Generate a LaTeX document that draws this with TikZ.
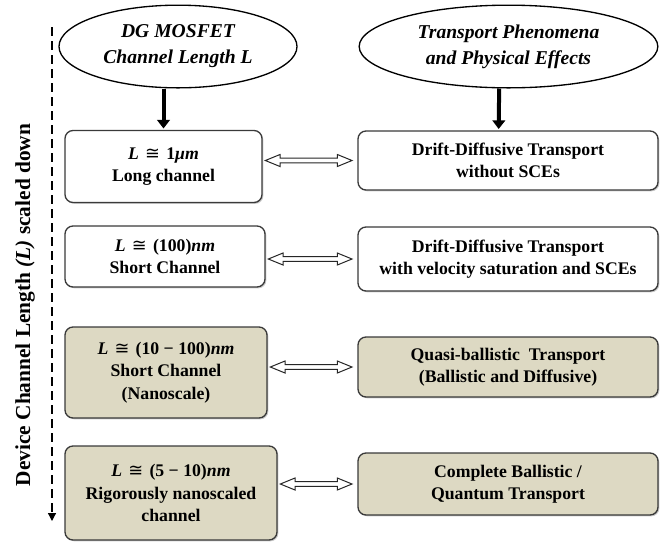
\documentclass[tikz,border=0pt]{standalone}
\usepackage{fontspec}
\setmainfont{Liberation Serif}
\newfontfamily\congfont{DejaVu Sans}
\usepackage{tikz}
\usetikzlibrary{shapes.geometric, arrows.meta, positioning, calc, shadows}

\definecolor{khaki}{HTML}{DDD9C3}
\definecolor{edgegray}{HTML}{3A3A3A}

% relation and minus for the length values
\newcommand{\cg}{\hspace{0.35em}{\congfont\mdseries ≅}\hspace{0.35em}}
\newcommand{\mn}{\hspace{0.25em}−\hspace{0.25em}}

\begin{document}
\begin{tikzpicture}[
    x=0.75pt, y=-0.75pt,
    oval/.style={ellipse, draw, line width=1pt, fill=white, inner sep=0pt, align=center, minimum height=62pt, font=\fontsize{14.7}{19.5}\selectfont\bfseries\itshape},
    block/.style={rectangle, draw=edgegray, line width=1pt, fill=white, rounded corners=6pt, inner sep=0pt, align=center, font=\fontsize{13.3}{16.8}\selectfont\bfseries, drop shadow={shadow xshift=1pt, shadow yshift=-1pt, fill=black!40}},
    nano/.style={block, fill=khaki},
    downarrow/.style={line width=3pt, -{Triangle[length=6.5pt, width=9.5pt]}},
    twoway/.style={draw=black!85, fill=white, line width=0.75pt, line join=miter},
    scalearrow/.style={line width=0.9pt, dash pattern=on 7pt off 3.5pt, -{Triangle[length=6pt, width=6pt]}}
]
\useasboundingbox (0,0) rectangle (663,544);

% Headings
\node[oval, minimum width=178.5pt] (dg) at (178,46.5) {DG MOSFET\\Channel Length L};
\node[oval, minimum width=224pt] (tp) at (508.5,46.5) {Transport Phenomena\\and Physical Effects};

% Channel length column
\node[block, minimum width=147.75pt, minimum height=54pt] (len1) at (163.5,166.5) {\textit{L}\cg 1\textit{μm}\\Long channel};
\node[block, minimum width=150pt, minimum height=45.75pt] (len2) at (165,256.5) {\textit{L}\cg (100)\textit{nm}\\Short Channel};
\node[nano, minimum width=151.5pt, minimum height=68.25pt] (len3) at (166,372.5) {\textit{L}\cg (10\mn 100)\textit{nm}\\Short Channel\\(Nanoscale)};
\node[nano, minimum width=159pt, minimum height=70.5pt] (len4) at (171,493) {\textit{L}\cg (5\mn 10)\textit{nm}\\Rigorously nanoscaled\\channel};

% Transport column
\node[block, minimum width=225pt, minimum height=44.25pt] (tr1) at (508,160.5) {Drift-Diffusive Transport\\without SCEs};
\node[block, minimum width=225pt, minimum height=48pt] (tr2) at (508,259) {Drift-Diffusive Transport\\with velocity saturation and SCEs};
\node[nano, minimum width=225pt, minimum height=45pt] (tr3) at (508,367) {Quasi-ballistic~ Transport\\(Ballistic and Diffusive)};
\node[nano, minimum width=225pt, minimum height=46.5pt] (tr4) at (508,484) {Complete Ballistic /\\Quantum Transport};

% Scaling axis
\coordinate (axtop) at (52,27);
\coordinate (axbot) at (52,521);
\draw[scalearrow] (axtop) -- (axbot);
\node[rotate=90, font=\fontsize{16}{19}\selectfont\bfseries] (axlabel) at (25,305) {Device Channel Length \textit{(L)} scaled down};

% Arrows
\draw[downarrow] (dg.south -| len1.north) -- ([yshift=1pt]len1.north);
\draw[downarrow] ([xshift=-7pt]tp.south) -- ([xshift=-7pt, yshift=1pt]tr1.north);

\foreach \a/\b in {len1/tr1, len2/tr2, len3/tr3, len4/tr4}
  \draw[twoway] let \p1=(\b.west -| \a.east), \p2=(\b.west) in
    (\x1+2pt,\y1) -- (\x1+13pt,\y1+4.5pt) -- (\x1+13pt,\y1+1.8pt)
    -- (\x2-15pt,\y1+1.8pt) -- (\x2-15pt,\y1+4.5pt) -- (\x2-4pt,\y1)
    -- (\x2-15pt,\y1-4.5pt) -- (\x2-15pt,\y1-1.8pt) -- (\x1+13pt,\y1-1.8pt)
    -- (\x1+13pt,\y1-4.5pt) -- cycle;

\end{tikzpicture}
\end{document}
